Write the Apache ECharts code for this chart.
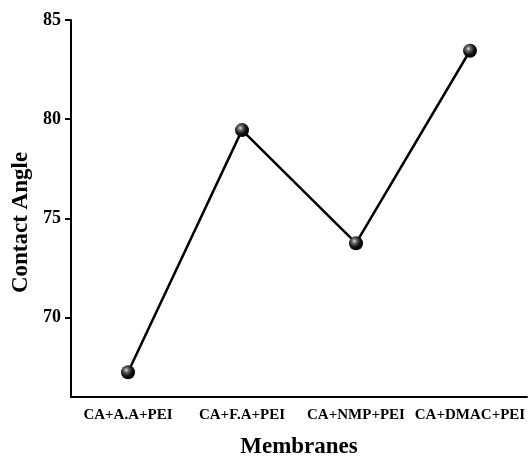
<!DOCTYPE html>
<html>
<head>
<meta charset="utf-8">
<script src="https://cdn.jsdelivr.net/npm/echarts@6/dist/echarts.min.js"></script>
<style>
  html, body { margin: 0; padding: 0; background: #fff; }
  #main { width: 530px; height: 458px; }
</style>
</head>
<body>
<div id="main"></div>
<script>
  // membranes and measured contact angle
  var membranes = ['CA+A.A+PEI', 'CA+F.A+PEI', 'CA+NMP+PEI', 'CA+DMAC+PEI'];
  var contactAngle = [67.25, 79.45, 73.75, 83.45];
  var yTicks = [70, 75, 80, 85];

  var font = '"Liberation Serif", "Times New Roman", serif';

  var chart = echarts.init(document.getElementById('main'));
  var option = {
    animation: false,
    grid: { left: 71, right: 3, top: 20, bottom: 61, containLabel: false, outerBoundsMode: 'none' },
    xAxis: {
      type: 'category',
      data: membranes,
      boundaryGap: true,
      name: 'Membranes',
      nameLocation: 'middle',
      nameGap: 39,
      nameTextStyle: { fontFamily: font, fontWeight: 'bold', fontSize: 23, color: '#000' },
      axisLine: { lineStyle: { color: '#000', width: 2 } },
      axisTick: { alignWithLabel: true, length: 6, lineStyle: { color: '#000', width: 2 } },
      axisLabel: { interval: 0, fontFamily: font, fontWeight: 'bold', fontSize: 15, color: '#000', margin: 11 },
      splitLine: { show: false }
    },
    yAxis: {
      type: 'value',
      min: 66,
      max: 85,
      name: 'Contact Angle',
      nameLocation: 'middle',
      nameGap: 37,
      nameTextStyle: { fontFamily: font, fontWeight: 'bold', fontSize: 23, color: '#000', padding: [0, 28, 0, 0] },
      axisLine: { show: true, lineStyle: { color: '#000', width: 2 } },
      axisTick: { show: true, length: 6, customValues: yTicks, lineStyle: { color: '#000', width: 2 } },
      axisLabel: { fontFamily: font, fontWeight: 'bold', fontSize: 18, color: '#000', margin: 10, customValues: yTicks },
      splitLine: { show: false }
    },
    series: [{
      type: 'line',
      data: contactAngle,
      symbol: 'circle',
      symbolSize: 14,
      lineStyle: { color: '#000', width: 2.5 },
      itemStyle: {
        color: new echarts.graphic.RadialGradient(0.38, 0.35, 0.7, [
          { offset: 0, color: '#dddddd' },
          { offset: 0.25, color: '#666666' },
          { offset: 0.6, color: '#111111' },
          { offset: 1, color: '#000000' }
        ]),
        borderWidth: 0
      },
      z: 3
    }]
  };
  chart.setOption(option);
</script>
</body>
</html>
